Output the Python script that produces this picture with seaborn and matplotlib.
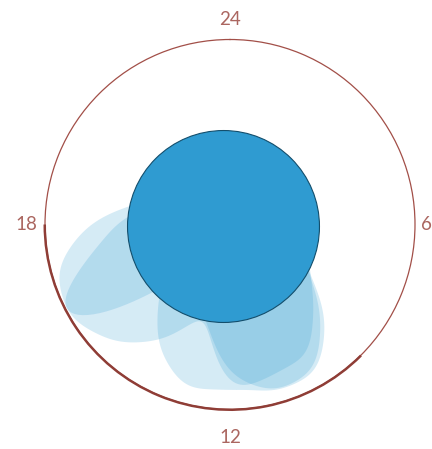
import numpy as np
import pandas as pd
import matplotlib
matplotlib.use("Agg")
import matplotlib.pyplot as plt
import seaborn as sns

# ---- data -------------------------------------------------------------
hours = list(range(24))
# hourly activity of three groups, in percent of the outer ring radius
activity_a = [35, 33.5, 32.5, 32.5, 32.5, 33.5, 35, 40, 49, 61.5, 84, 82,
              94.5, 41, 72, 89, 101, 98.5, 77, 44.5, 38, 37, 35.5, 35]
activity_b = [32.5, 32.5, 31.5, 31.5, 31.5, 32.5, 33.5, 37, 46, 67.5, 92, 93.5,
              82.5, 47.5, 44.5, 21.5, 120, 78, 62, 41, 35.5, 33.5, 32.5, 32.5]
activity_c = [33.5, 32.5, 31.5, 31.5, 31.5, 32.5, 33.5, 38, 45.5, 72, 94, 93,
              87, 93, 77, 53, 35.5, 33.5, 33.5, 33.5, 33.5, 33.5, 33.5, 33.5]
group_names = ["a", "b", "c"]

label_hours = [0, 6, 12, 18]
hour_labels = ["24", "6", "12", "18"]
work_hours = [9, 18]          # highlighted span on the clock ring
mean_hour = [17.4]            # summary disc position
mean_radius = [3.8]           # percent of ring radius

# ---- style --------------------------------------------------------------
sns.set_style("white")
plt.rcParams["font.family"] = ["Lato", "DejaVu Sans"]

BLUE = "#2f9bd1"
EDGE = "#134e6c"
RING = "#a24f48"
RING_DARK = "#8f3d36"
LABEL = "#ab6660"

STEP = 2 * np.pi / 24
SIGMA = 0.6 * STEP            # kernel width: 0.6 h


def fixed_bw(kde):
    sd = float(np.sqrt(np.cov(kde.dataset, aweights=kde.weights)))
    return SIGMA / sd


df = pd.DataFrame({
    "hour": np.tile(hours, 3),
    "group": np.repeat(group_names, 24),
    "activity": np.concatenate([activity_a, activity_b, activity_c]),
})
df["theta"] = df["hour"] * STEP

fig = plt.figure(figsize=(4.32, 4.49), dpi=100)
ax = fig.add_axes([45 / 432, 39.5 / 449, 370 / 432, 370 / 449], projection="polar")
ax.set_theta_zero_location("N")
ax.set_theta_direction(-1)

sns.kdeplot(data=df, x="theta", weights="activity", hue="group",
            hue_order=group_names, palette={g: BLUE for g in group_names},
            common_norm=True, fill=True, alpha=0.2, linewidth=0,
            bw_method=fixed_bw, cut=0, gridsize=400, legend=False, ax=ax)

# radial scale: density of a weight of 100 spread over one hour -> ring
rmax = 100 / (df["activity"].sum() * STEP)
ax.set_thetalim(0, 2 * np.pi)
ax.set_ylim(0, rmax)

# summary disc
ax.scatter(np.array(mean_hour) * STEP, np.array(mean_radius) / 100 * rmax,
           s=19100, color=BLUE, edgecolor=EDGE, linewidth=0.8, zorder=3)

# clock ring and highlighted working hours
ax.spines["polar"].set_edgecolor(RING)
ax.spines["polar"].set_linewidth(0.9)
thick = rmax * 2.5 / 185
ax.bar(np.mean(work_hours) * STEP, thick, width=(work_hours[1] - work_hours[0]) * STEP,
       bottom=rmax - thick * 0.4, color=RING_DARK, linewidth=0,
       clip_on=False, zorder=4)

ax.grid(False)
ax.set_xticks([])
ax.set_yticks([])
ax.set_xlabel("")
ax.set_ylabel("")

gaps = [20, 11.5, 28, 19]
for h, lab, gap in zip(label_hours, hour_labels, gaps):
    ax.text(h * STEP, rmax * (1 + gap / 185), lab, ha="center", va="center",
            fontsize=13.5, color=LABEL, clip_on=False)

fig.savefig("out.png", dpi=100)
